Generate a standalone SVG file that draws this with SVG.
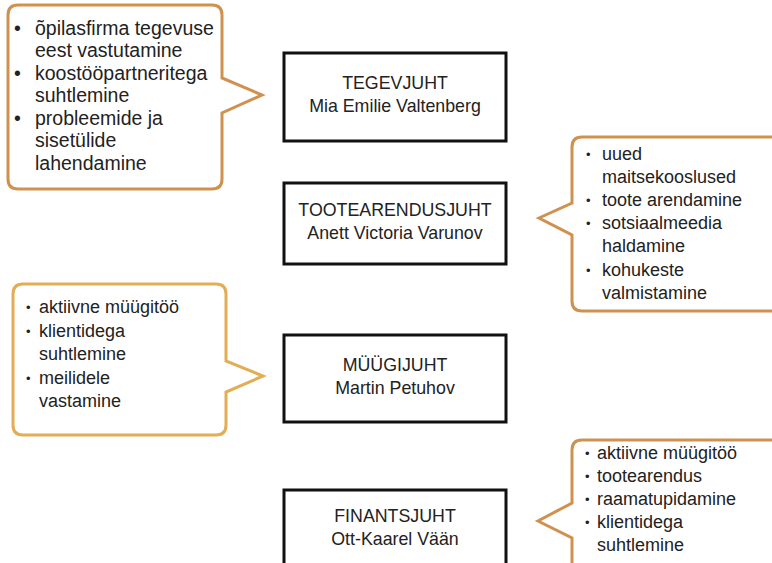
<svg xmlns="http://www.w3.org/2000/svg" width="772" height="563" viewBox="0 0 772 563">
<style>
.box{fill:#fff;stroke:#111;stroke-width:3}
.co{fill:#fff;stroke:#cf9150;stroke-width:3;stroke-linejoin:miter}
.co2{fill:#fff;stroke:#e2ad55;stroke-width:3}
.t{font-family:"Liberation Sans",Arial,sans-serif;fill:#222}
.bt{font-size:17.8px;text-anchor:middle}
.c1{font-size:19.5px}
.c{font-size:18px}
.b{font-size:13px}
</style>
<rect width="772" height="563" fill="#fff"/>
<g id="callout-tegevjuht">
<path class="co" d="M18,5 H212 Q222,5 222,15 V78 L262,95 L222,113 V179 Q222,189 212,189 H18 Q8,189 8,179 V15 Q8,5 18,5 Z"/>
<g class="t c1">
<text x="14" y="35">•</text><text x="35" y="35">õpilasfirma tegevuse</text>
<text x="35" y="57">eest vastutamine</text>
<text x="14" y="80">•</text><text x="35" y="80">koostööpartneritega</text>
<text x="35" y="102">suhtlemine</text>
<text x="14" y="125">•</text><text x="35" y="125">probleemide ja</text>
<text x="35" y="147">sisetülide</text>
<text x="35" y="170">lahendamine</text>
</g>
</g>
<g id="callout-tootearendus">
<path class="co" d="M582,137 H782 V311 H582 Q572,311 572,301 V235 L539,218 L572,203 V147 Q572,137 582,137 Z"/>
<g class="t c">
<text class="b" x="586" y="159">•</text><text x="602" y="160">uued</text>
<text x="602" y="183">maitsekooslused</text>
<text class="b" x="586" y="205">•</text><text x="602" y="206">toote arendamine</text>
<text class="b" x="586" y="228">•</text><text x="602" y="229">sotsiaalmeedia</text>
<text x="602" y="252">haldamine</text>
<text class="b" x="586" y="275">•</text><text x="602" y="276">kohukeste</text>
<text x="602" y="299">valmistamine</text>
</g>
</g>
<g id="callout-muugi">
<path class="co2" d="M23,284 H216 Q226,284 226,294 V361 L263,376 L226,392 V425 Q226,435 216,435 H23 Q13,435 13,425 V294 Q13,284 23,284 Z"/>
<g class="t c">
<text class="b" x="26" y="312">•</text><text x="39" y="313">aktiivne müügitöö</text>
<text class="b" x="26" y="336">•</text><text x="39" y="337">klientidega</text>
<text x="39" y="360">suhtlemine</text>
<text class="b" x="26" y="383">•</text><text x="39" y="384">meilidele</text>
<text x="39" y="407">vastamine</text>
</g>
</g>
<g id="callout-finants">
<path class="co" d="M582,440 H782 V590 H572 V538 L538,521 L572,503 V450 Q572,440 582,440 Z"/>
<g class="t c">
<text class="b" x="585" y="458">•</text><text x="597" y="459">aktiivne müügitöö</text>
<text class="b" x="585" y="481">•</text><text x="597" y="482">tootearendus</text>
<text class="b" x="585" y="504">•</text><text x="597" y="505">raamatupidamine</text>
<text class="b" x="585" y="527">•</text><text x="597" y="528">klientidega</text>
<text x="597" y="551">suhtlemine</text>
</g>
</g>
<g id="node-tegevjuht">
<rect class="box" x="284" y="53" width="222" height="88"/>
<text class="t bt" x="395" y="89">TEGEVJUHT</text>
<text class="t bt" x="395" y="112">Mia Emilie Valtenberg</text>
</g>
<g id="node-tootearendusjuht">
<rect class="box" x="284" y="183" width="222" height="81"/>
<text class="t bt" x="395" y="216">TOOTEARENDUSJUHT</text>
<text class="t bt" x="395" y="239">Anett Victoria Varunov</text>
</g>
<g id="node-muugijuht">
<rect class="box" x="284" y="335" width="222" height="87"/>
<text class="t bt" x="395" y="371">MÜÜGIJUHT</text>
<text class="t bt" x="395" y="394">Martin Petuhov</text>
</g>
<g id="node-finantsjuht">
<rect class="box" x="284" y="490" width="222" height="90"/>
<text class="t bt" x="395" y="522">FINANTSJUHT</text>
<text class="t bt" x="395" y="545">Ott-Kaarel Vään</text>
</g>
<g id="connectors"></g>
</svg>
